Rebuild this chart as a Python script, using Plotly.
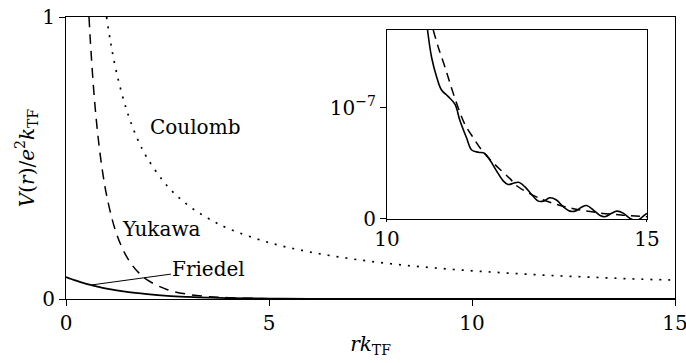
import plotly.graph_objects as go

# ---- main panel data (r k_TF, V / e^2 k_TF) ----
r_coulomb = [1.0, 1.1, 1.25, 1.5, 1.75, 2.0, 2.5, 3.0, 3.5, 4.0, 5.0, 6.0, 7.0, 8.0, 9.0, 10.0, 11.0, 12.0, 13.0, 14.0, 15.0]
v_coulomb = [1.0, 0.909, 0.8, 0.667, 0.571, 0.5, 0.4, 0.333, 0.286, 0.25, 0.2, 0.167, 0.143, 0.125, 0.111, 0.1, 0.091, 0.083, 0.077, 0.071, 0.067]

r_yukawa = [0.567, 0.6, 0.7, 0.8, 0.9, 1.0, 1.2, 1.4, 1.6, 1.8, 2.0, 2.5, 3.0, 3.5, 4.0, 5.0, 6.0, 8.0, 10.0, 15.0]
v_yukawa = [1.0, 0.915, 0.709, 0.562, 0.452, 0.368, 0.251, 0.176, 0.126, 0.0918, 0.0677, 0.0328, 0.0166, 0.0086, 0.0046, 0.0013, 0.0004, 0.00004, 0.0, 0.0]

r_friedel = [0.0, 0.25, 0.5, 0.75, 1.0, 1.5, 2.0, 2.5, 3.0, 3.5, 4.0, 5.0, 6.0, 8.0, 10.0, 15.0]
v_friedel = [0.078, 0.065, 0.054, 0.045, 0.037, 0.025, 0.017, 0.011, 0.0075, 0.005, 0.003, 0.0015, 0.0007, 0.0001, 0.0, 0.0]

# ---- inset data (values in units of 1e-7) ----
r_in_friedel = [10.78, 10.86, 10.96, 11.05, 11.18, 11.31, 11.40, 11.53, 11.63, 11.76, 11.88, 11.98, 12.11, 12.24, 12.33,
                12.43, 12.53, 12.65, 12.78, 12.91, 13.01, 13.13, 13.26, 13.39, 13.52, 13.62, 13.74, 13.84, 13.97,
                14.10, 14.19, 14.32, 14.42, 14.55, 14.67, 14.80, 14.96, 15.0]
v_in_friedel = [1.70, 1.45, 1.27, 1.16, 1.10, 1.03, 0.89, 0.73, 0.62, 0.60, 0.59, 0.53, 0.43, 0.34, 0.31,
                0.32, 0.33, 0.29, 0.22, 0.16, 0.16, 0.19, 0.17, 0.11, 0.07, 0.07, 0.105, 0.12, 0.08,
                0.03, 0.02, 0.05, 0.07, 0.05, 0.006, -0.015, 0.036, 0.05]

r_in_yukawa = [10.89, 10.99, 11.12, 11.24, 11.37, 11.50, 11.66, 11.82, 12.01, 12.21, 12.37, 12.5, 13.0, 13.5, 14.0, 14.5, 15.0]
v_in_yukawa = [1.70, 1.54, 1.36, 1.18, 1.00, 0.85, 0.73, 0.62, 0.52, 0.43, 0.36, 0.296, 0.173, 0.101, 0.059, 0.035, 0.020]

x_ticks = [0, 5, 10, 15]
y_ticks = [0, 1]
inset_x_ticks = [10, 15]
inset_y_ticks = [0, 1]
inset_y_ticktext = ["0", "10<sup>−7</sup>"]

FONT = "DejaVu Serif"
FS = 20
BLACK = "black"

fig = go.Figure()

fig.add_trace(go.Scatter(x=r_coulomb, y=v_coulomb, mode="lines", line=dict(color=BLACK, width=1.7, dash="2px,7px", shape="spline"),
                         showlegend=False, xaxis="x", yaxis="y"))
fig.add_trace(go.Scatter(x=r_yukawa, y=v_yukawa, mode="lines", line=dict(color=BLACK, width=1.5, dash="10px,7px", shape="spline"),
                         showlegend=False, xaxis="x", yaxis="y"))
fig.add_trace(go.Scatter(x=r_friedel, y=v_friedel, mode="lines", line=dict(color=BLACK, width=1.8, shape="spline"),
                         showlegend=False, xaxis="x", yaxis="y"))

fig.add_trace(go.Scatter(x=r_in_yukawa, y=v_in_yukawa, mode="lines", line=dict(color=BLACK, width=1.5, dash="9px,6px", shape="spline"),
                         showlegend=False, xaxis="x2", yaxis="y2"))
fig.add_trace(go.Scatter(x=r_in_friedel, y=v_in_friedel, mode="lines", line=dict(color=BLACK, width=1.6, shape="spline"),
                         showlegend=False, xaxis="x2", yaxis="y2"))

def axis_common(ticklen=6):
    return dict(showgrid=False, zeroline=False, showline=True, linecolor=BLACK, linewidth=1,
                mirror=True, ticks="outside", ticklen=ticklen, tickcolor=BLACK, tickwidth=1,
                automargin=False, ticklabeloverflow="allow",
                tickfont=dict(family=FONT, size=FS, color=BLACK))

fig.update_layout(
    width=686, height=363,
    margin=dict(l=66, r=11, t=17, b=64),
    paper_bgcolor="white", plot_bgcolor="white",
    font=dict(family=FONT, size=FS, color=BLACK),
    xaxis=dict(domain=[0, 1], range=[0, 15], tickvals=x_ticks, anchor="y",
               title=dict(text="<i>rk</i><sub>TF</sub>", font=dict(family=FONT, size=FS), standoff=2), **axis_common()),
    yaxis=dict(domain=[0, 1], range=[0, 1], tickvals=y_ticks, anchor="x",
               title=dict(text="<i>V</i>(<i>r</i>)/<i>e</i><sup>2</sup><i>k</i><sub>TF</sub>", font=dict(family=FONT, size=FS), standoff=2),
               **axis_common()),
    xaxis2=dict(domain=[0.527, 0.954], range=[10, 15], tickvals=inset_x_ticks, anchor="y2", **axis_common(2)),
    yaxis2=dict(domain=[0.284, 0.954], range=[0, 1.70], tickvals=inset_y_ticks, ticktext=inset_y_ticktext, anchor="x2",
                **axis_common(6)),
)

fig.add_annotation(x=3.18, y=0.61, xref="x", yref="y", text="Coulomb", showarrow=False,
                   font=dict(family=FONT, size=FS, color=BLACK))
fig.add_annotation(x=1.33, y=0.25, xref="x", yref="y", text="Yukawa", showarrow=False, xanchor="left",
                   font=dict(family=FONT, size=FS, color=BLACK))
fig.add_annotation(x=0.64, y=0.05, xref="x", yref="y", text="Friedel", showarrow=True, arrowhead=0,
                   arrowwidth=1, arrowcolor=BLACK, ax=117, ay=-16,
                   font=dict(family=FONT, size=FS, color=BLACK))

fig.write_html("out.html", config={"displayModeBar": False},
               post_script="document.body.style.margin='0';document.body.style.overflow='hidden';")
